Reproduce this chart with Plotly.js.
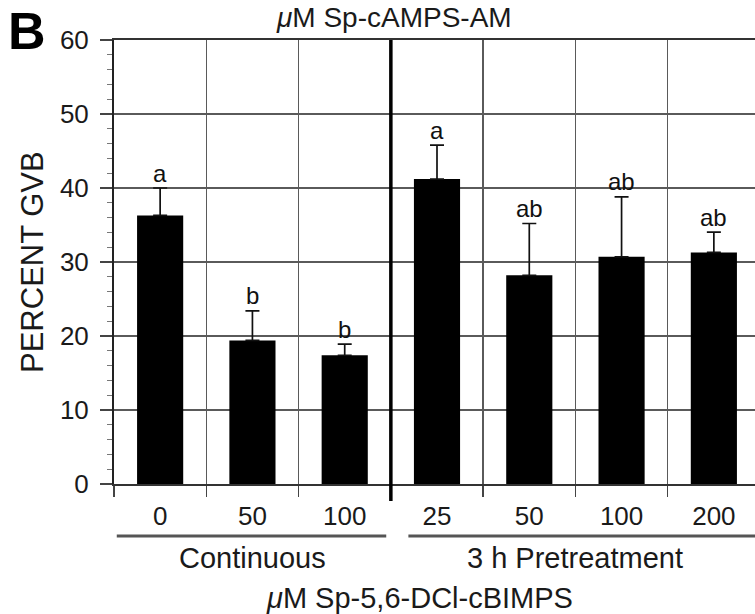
<!DOCTYPE html>
<html>
<head>
<meta charset="utf-8">
<script src="https://cdn.plot.ly/plotly-3.0.1.min.js"></script>
<style>
html, body { margin: 0; padding: 0; overflow: hidden; background: #fff; }
#chart { width: 760px; height: 614px; }
</style>
</head>
<body>
<div id="chart"></div>
<script>
// ---- data ----
const categoryIds = ["c0", "c50", "c100", "p25", "p50", "p100", "p200"];
const tickLabels = ["0", "50", "100", "25", "50", "100", "200"];
const percentGVB = [36.3, 19.4, 17.4, 41.2, 28.2, 30.7, 31.3];
const errorUp = [3.7, 4.0, 1.5, 4.6, 7.0, 8.1, 2.75];
const sigLetters = ["a", "b", "b", "a", "ab", "ab", "ab"];
const groupNames = ["Continuous", "3 h Pretreatment"];
const groupSizes = [3, 4];
const xTitle = "<i>μ</i>M Sp-5,6-DCl-cBIMPS";
const topTitle = "<i>μ</i>M Sp-cAMPS-AM";
const yTitle = "PERCENT GVB";
const panelLabel = "B";

const FONT = "Liberation Sans, Arial, Helvetica, sans-serif";

const trace = {
  type: "bar",
  x: categoryIds,
  y: percentGVB,
  marker: { color: "#000", line: { width: 0 } },
  error_y: { type: "data", array: errorUp, arrayminus: errorUp.map(() => 0), symmetric: false,
             color: "#111", thickness: 1.7, width: 7 },
  hoverinfo: "none"
};

const annotations = [];
// significance letters
categoryIds.forEach((c, i) => {
  annotations.push({
    x: c, y: percentGVB[i] + errorUp[i], xref: "x", yref: "y",
    text: sigLetters[i], showarrow: false, yanchor: "middle", yshift: 15,
    font: { family: FONT, size: 24, color: "#111" }
  });
});

// group labels and underlines
const shapes = [];
let start = 0;
groupSizes.forEach((n, g) => {
  const center = start + (n - 1) / 2;
  annotations.push({
    x: center, xref: "x", y: 0, yref: "paper", yanchor: "middle", yshift: -74,
    text: groupNames[g], showarrow: false,
    font: { family: FONT, size: 29, color: "#1a1a1a" }
  });
  const x0 = g === 0 ? start - 0.47 : start - 0.31;
  const x1 = g === 0 ? start + n - 0.55 : start + n + 0.5;
  shapes.push({
    type: "line", xref: "x", yref: "paper", ysizemode: "pixel", yanchor: 0,
    x0: x0, x1: x1, y0: -52, y1: -52,
    line: { color: "#555", width: 3 }
  });
  start += n;
});

// separator between the groups
const sep = groupSizes[0] - 0.5;
shapes.push({
  type: "line", xref: "x", yref: "paper", ysizemode: "pixel", yanchor: 0,
  x0: sep, x1: sep, y0: -17, y1: 444,
  line: { color: "#000", width: 3.5 }
});

// axis title, top title, panel label
annotations.push({
  x: 0.473, xref: "paper", y: 0, yref: "paper", yanchor: "middle", yshift: -114,
  text: xTitle, showarrow: false, font: { family: FONT, size: 29, color: "#1a1a1a" }
});
annotations.push({
  x: 0.4334, xref: "paper", y: 1, yref: "paper", yanchor: "top", yshift: 40,
  text: topTitle, showarrow: false, font: { family: FONT, size: 28, color: "#1a1a1a" }
});
annotations.push({
  x: 0, xref: "paper", xanchor: "center", xshift: -82,
  y: 0.5, yref: "paper", yanchor: "middle",
  text: yTitle, textangle: -90, showarrow: false,
  font: { family: FONT, size: 31, color: "#1a1a1a" }
});
annotations.push({
  x: 0, xref: "paper", xanchor: "center", xshift: -87,
  y: 1, yref: "paper", yanchor: "middle", yshift: 9,
  text: "<b>" + panelLabel + "</b>", showarrow: false,
  font: { family: FONT, size: 52, color: "#000" }
});

const layout = {
  width: 760, height: 614,
  margin: { l: 114, r: 0, t: 40, b: 130, pad: 0 },
  paper_bgcolor: "#fff", plot_bgcolor: "#fff",
  showlegend: false,
  bargap: 0.5,
  font: { family: FONT, color: "#1a1a1a" },
  xaxis: {
    type: "category",
    tickmode: "array", tickvals: categoryIds, ticktext: tickLabels,
    tickson: "boundaries",
    ticks: "outside", ticklen: 11, tickwidth: 1.5, tickcolor: "#444",
    showgrid: true, gridcolor: "#5a5a5a", gridwidth: 1.3,
    showline: true, linecolor: "#333", linewidth: 2, mirror: true,
    tickfont: { family: FONT, size: 26, color: "#1a1a1a" },
    ticklabelstandoff: 8,
    range: [-0.5, 6.5], fixedrange: true
  },
  yaxis: {
    range: [0, 60], dtick: 10, tick0: 0,
    ticks: "outside", ticklen: 12, tickwidth: 1.5, tickcolor: "#444",
    minor: { dtick: 2, ticks: "outside", ticklen: 5, tickwidth: 1, tickcolor: "#777", showgrid: false },
    showgrid: true, gridcolor: "#5a5a5a", gridwidth: 1.3,
    showline: true, linecolor: "#222", linewidth: 2,
    zeroline: false,
    tickfont: { family: FONT, size: 26, color: "#1a1a1a" },
    ticklabelstandoff: 6,
    fixedrange: true
  },
  annotations: annotations,
  shapes: shapes
};

Plotly.newPlot("chart", [trace], layout, { displayModeBar: false, staticPlot: true });
</script>
</body>
</html>
